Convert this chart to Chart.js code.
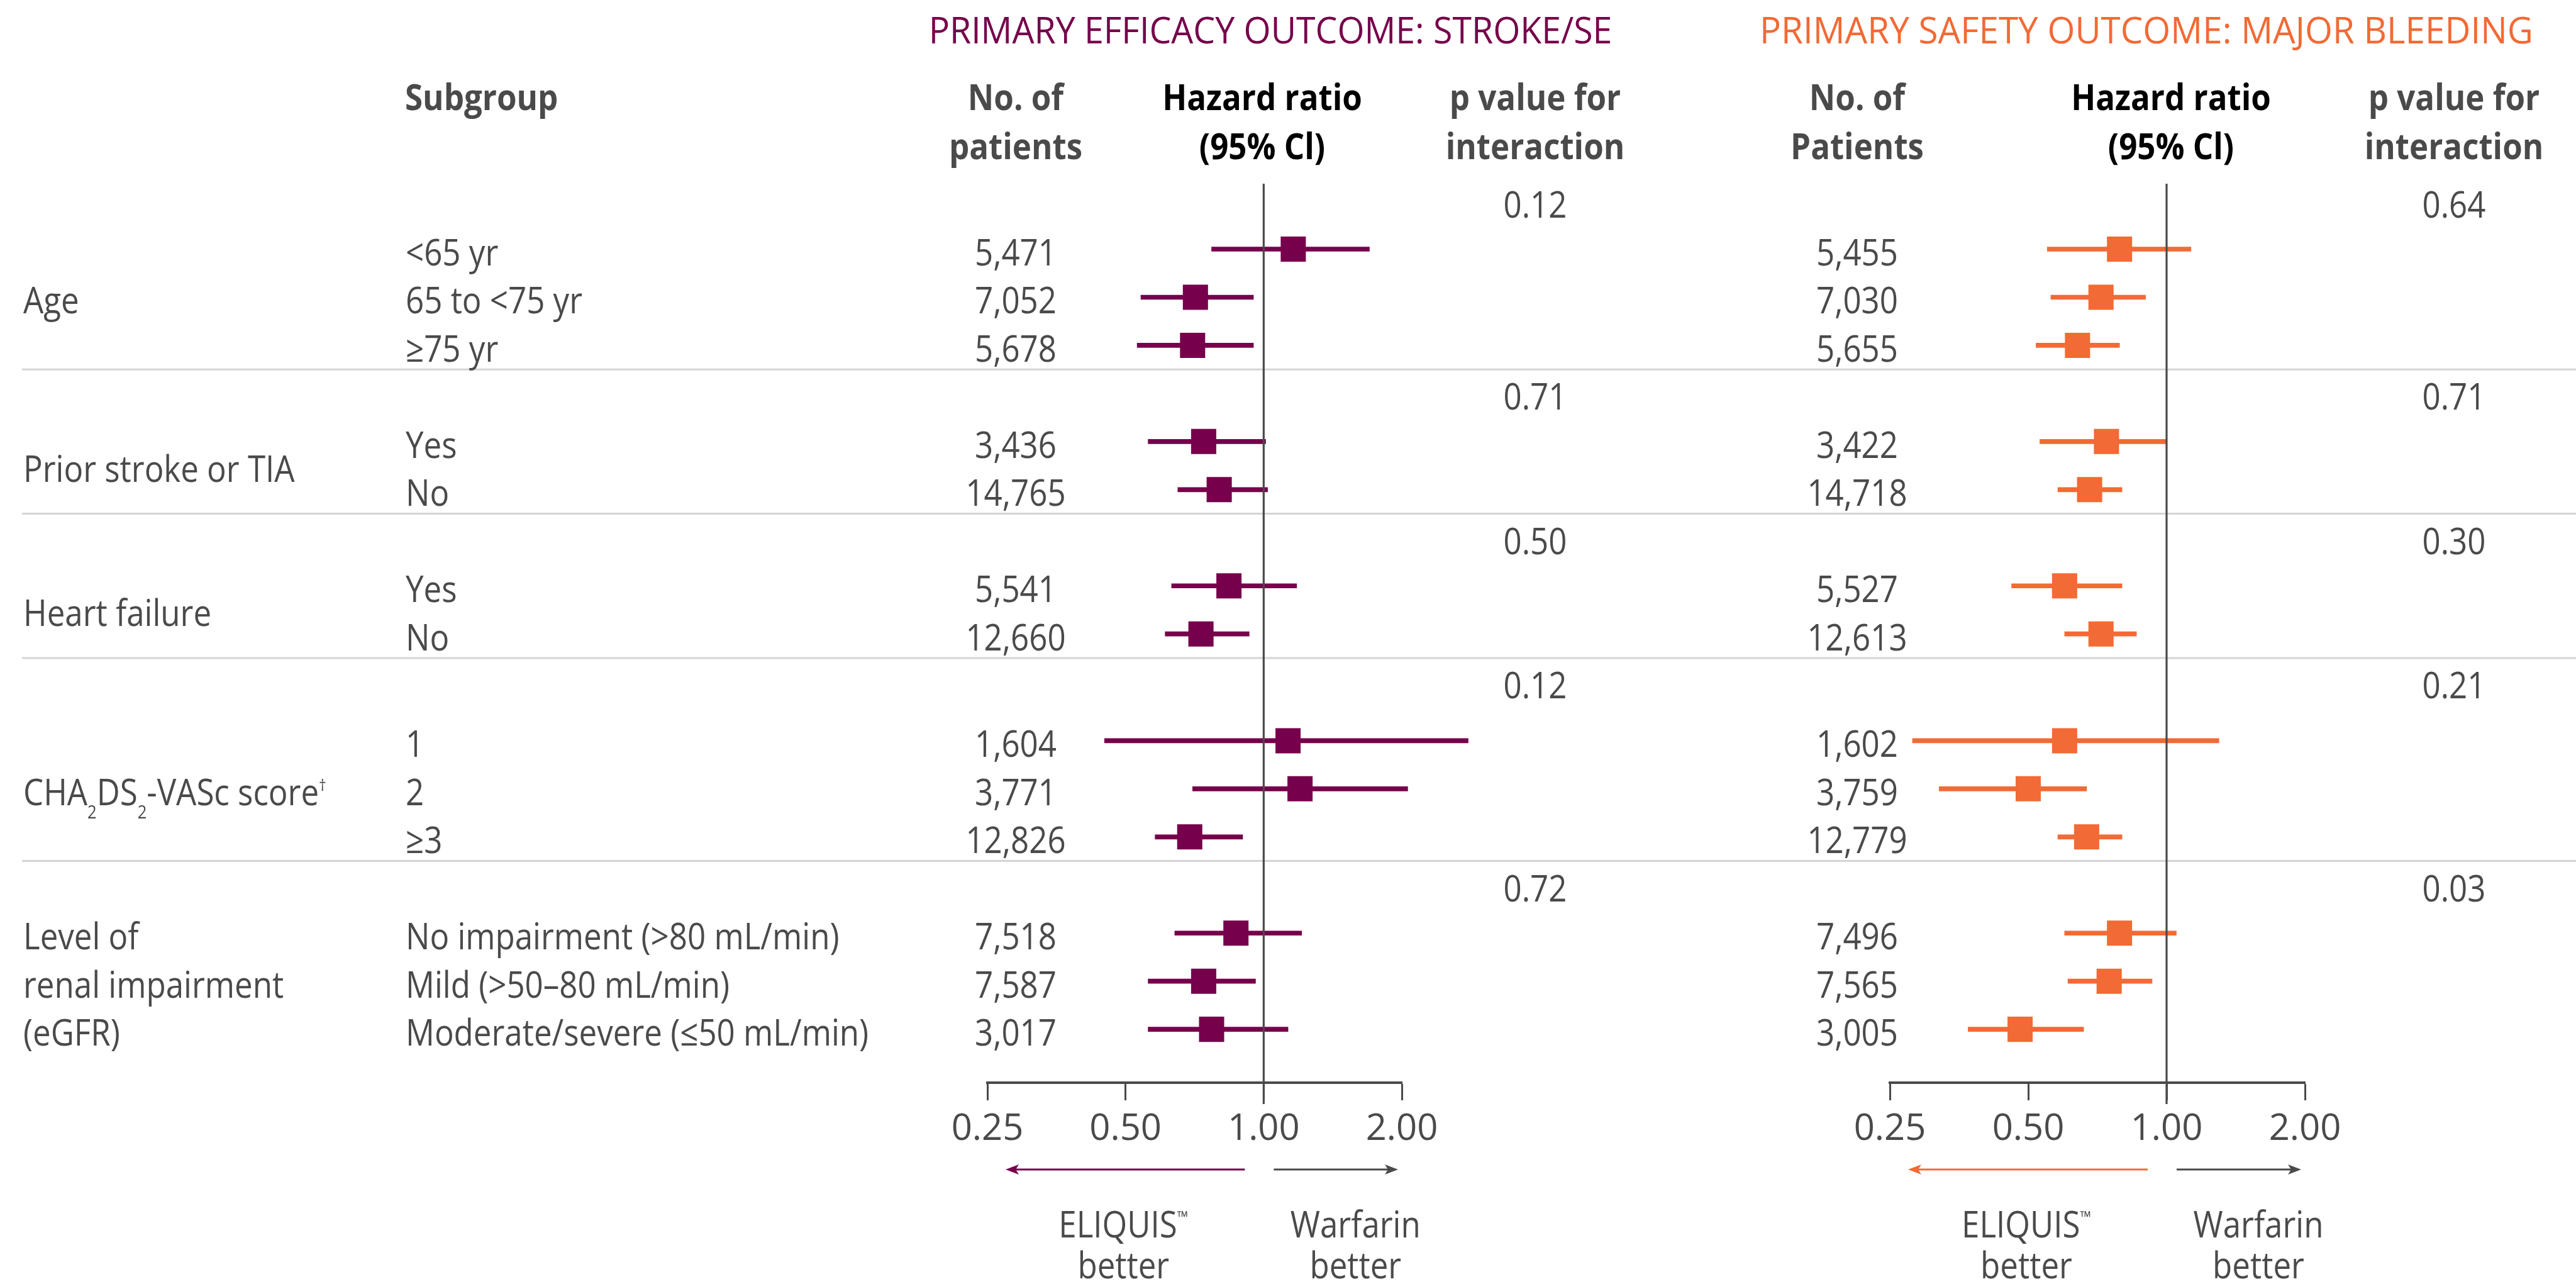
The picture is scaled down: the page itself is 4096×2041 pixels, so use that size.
<!DOCTYPE html>
<html lang="en">
<head>
<meta charset="utf-8">
<title>Subgroup analysis - stroke/SE and major bleeding</title>
<script src="https://cdn.jsdelivr.net/npm/chart.js@4.4.1/dist/chart.umd.min.js"></script>
<style>
  html, body { margin: 0; padding: 0; background: #ffffff; overflow: hidden; }
  #wrap { position: relative; width: 4096px; height: 2041px; }
  #wrap canvas { position: absolute; left: 0; top: 0; }
</style>
</head>
<body>
<div id="wrap">
  <canvas id="chartEff" width="4096" height="2041"></canvas>
  <canvas id="chartSaf" width="4096" height="2041"></canvas>
</div>
<script>
// data
const groupLabels = [['Age'], ['Prior stroke or TIA'], ['Heart failure'], ['CHA_2DS_2-VASc score^†'], ['Level of', 'renal impairment', '(eGFR)']];
const groupSize = [3, 2, 2, 3, 3];
const subgroups = ['<65 yr', '65 to <75 yr', '≥75 yr', 'Yes', 'No', 'Yes', 'No', '1', '2', '≥3',
    'No impairment (>80 mL/min)', 'Mild (>50–80 mL/min)', 'Moderate/severe (≤50 mL/min)'];

const effPatients = ['5,471', '7,052', '5,678', '3,436', '14,765', '5,541', '12,660', '1,604', '3,771', '12,826', '7,518', '7,587', '3,017'];
const effHR   = [1.16, 0.71, 0.70, 0.74, 0.80, 0.84, 0.73, 1.13, 1.20, 0.69, 0.87, 0.74, 0.77];
const effLow  = [0.77, 0.54, 0.53, 0.56, 0.65, 0.63, 0.61, 0.45, 0.70, 0.58, 0.64, 0.56, 0.56];
const effHigh = [1.70, 0.95, 0.95, 1.01, 1.02, 1.18, 0.93, 2.79, 2.06, 0.90, 1.21, 0.96, 1.13];
const effP = ['0.12', '0.71', '0.50', '0.12', '0.72'];

const safPatients = ['5,455', '7,030', '5,655', '3,422', '14,718', '5,527', '12,613', '1,602', '3,759', '12,779', '7,496', '7,565', '3,005'];
const safHR   = [0.79, 0.72, 0.64, 0.74, 0.68, 0.60, 0.72, 0.60, 0.50, 0.67, 0.79, 0.75, 0.48];
const safLow  = [0.55, 0.56, 0.52, 0.53, 0.58, 0.46, 0.60, 0.28, 0.32, 0.58, 0.60, 0.61, 0.37];
const safHigh = [1.13, 0.90, 0.79, 1.00, 0.80, 0.80, 0.86, 1.30, 0.67, 0.80, 1.05, 0.93, 0.66];
const safP = ['0.64', '0.71', '0.30', '0.21', '0.03'];

const hrTicks = [0.25, 0.5, 1, 2];

// look
const GREY = '#4a4a4a';
const PURPLE = '#76004b';
const ORANGE = '#f26a35';
const RULE = '#d4d4d4';
const FONT = '"Open Sans", "Noto Sans", sans-serif';
const FS = 58;
const SQUEEZE = 0.88;      // the original face is a narrow one
const AXIS_Y = 1721;

// one slot per text line; the CHA2DS2-VASc block sits a little lower
const groupGap = [0, 0, 0, 0.22, 0];
const pSlot = [], rowSlot = [], ruleSlot = [], labelSlot = [];
let slot = 0;
groupSize.forEach(function(size, g) {
    pSlot.push(slot);
    slot += 1 + groupGap[g];
    labelSlot.push(slot + (size - 1) / 2);
    for (let i = 0; i < size; i++) { rowSlot.push(slot); slot += 1; }
    if (g < groupSize.length - 1) ruleSlot.push(slot - 0.5);
});

// canvas text, squeezed horizontally; _x = subscript, ^x = superscript
function write(ctx, str, x, y, opt) {
    opt = opt || {};
    const size = opt.size || FS;
    const sq = opt.squeeze || SQUEEZE;
    const weight = opt.bold ? 700 : 400;
    const parts = str.split(/([_^].)/).filter(t => t !== '').map(function(t) {
        if (t.length === 2 && t[0] === '_') return { t: t[1], k: 0.5, dy: 0.36 };
        if (t.length === 2 && t[0] === '^') return { t: t[1], k: 0.45, dy: -0.4 };
        return { t: t, k: 1, dy: 0 };
    });
    ctx.save();
    ctx.fillStyle = opt.color || GREY;
    ctx.textBaseline = 'alphabetic';
    ctx.textAlign = 'left';
    let w = 0;
    parts.forEach(function(p) {
        ctx.font = weight + ' ' + (size * p.k) + 'px ' + FONT;
        p.w = ctx.measureText(p.t).width;
        w += p.w;
    });
    let x0 = x;
    if (opt.align === 'center') x0 = x - w * sq / 2;
    else if (opt.align === 'right') x0 = x - w * sq;
    ctx.translate(x0, y);
    ctx.scale(sq, 1);
    let cx = 0;
    parts.forEach(function(p) {
        ctx.font = weight + ' ' + (size * p.k) + 'px ' + FONT;
        ctx.fillText(p.t, cx, p.dy * size);
        cx += p.w;
    });
    ctx.restore();
}

function arrow(ctx, xFrom, xTip, y, colour) {
    const d = Math.sign(xTip - xFrom);
    ctx.save();
    ctx.strokeStyle = colour;
    ctx.fillStyle = colour;
    ctx.lineWidth = 3.2;
    ctx.beginPath();
    ctx.moveTo(xFrom, y);
    ctx.lineTo(xTip - d * 12, y);
    ctx.stroke();
    ctx.beginPath();
    ctx.moveTo(xTip, y);
    ctx.lineTo(xTip - d * 21, y - 8);
    ctx.lineTo(xTip - d * 16, y);
    ctx.lineTo(xTip - d * 21, y + 8);
    ctx.closePath();
    ctx.fill();
    ctx.restore();
}

function panelPlugin(cfg) {
    return {
        id: 'panel_' + cfg.key,
        beforeDatasetsDraw(chart) {
            if (!cfg.table) return;
            const ctx = chart.ctx, ys = chart.scales.y;
            ctx.save();
            ctx.strokeStyle = RULE;
            ctx.lineWidth = 3;
            ruleSlot.forEach(function(v) {
                const y = ys.getPixelForValue(v);
                ctx.beginPath(); ctx.moveTo(35, y); ctx.lineTo(chart.width, y); ctx.stroke();
            });
            ctx.restore();
        },
        afterDatasetsDraw(chart) {
            const ctx = chart.ctx, xs = chart.scales.x, ys = chart.scales.y;
            const x1 = xs.getPixelForValue(1);
            ctx.save();
            ctx.strokeStyle = GREY;
            ctx.lineWidth = 3.2;
            ctx.beginPath();
            ctx.moveTo(x1, ys.getPixelForValue(-0.36));
            ctx.lineTo(x1, xs.top + 34);
            ctx.stroke();
            ctx.restore();
        },
        afterDraw(chart) {
            const ctx = chart.ctx, xs = chart.scales.x, ys = chart.scales.y;
            const x1 = xs.getPixelForValue(1);
            const base = v => ys.getPixelForValue(v) + 26;

            write(ctx, cfg.title, cfg.titleX, 69, { color: cfg.colour, align: 'center', squeeze: cfg.titleSqueeze });
            write(ctx, 'No. of', cfg.nX, 175, { bold: true, align: 'center' });
            write(ctx, cfg.nHead, cfg.nX, 253, { bold: true, align: 'center' });
            write(ctx, 'Hazard ratio', cfg.hrX, 175, { bold: true, align: 'center', color: '#000000' });
            write(ctx, '(95% Cl)', cfg.hrX, 253, { bold: true, align: 'center', color: '#000000' });
            write(ctx, 'p value for', cfg.pX, 175, { bold: true, align: 'center' });
            write(ctx, 'interaction', cfg.pX, 253, { bold: true, align: 'center' });

            cfg.p.forEach((t, i) => write(ctx, t, cfg.pX, base(pSlot[i]), { align: 'center' }));
            cfg.n.forEach((t, i) => write(ctx, t, cfg.nX, base(rowSlot[i]), { align: 'center' }));

            if (cfg.table) {
                write(ctx, 'Subgroup', 644, 175, { bold: true });
                subgroups.forEach((t, i) => write(ctx, t, 645, base(rowSlot[i])));
                groupLabels.forEach(function(lines, g) {
                    lines.forEach((t, j) => write(ctx, t, 37, base(labelSlot[g] + j - (lines.length - 1) / 2)));
                });
            }

            const ay = 1859;
            arrow(ctx, x1 - 30, xs.getPixelForValue(0.25) + 29, ay, cfg.colour);
            arrow(ctx, x1 + 16, xs.getPixelForValue(2) - 6, ay, GREY);
            write(ctx, 'ELIQUIS^™', x1 - 223, 1967, { align: 'center' });
            write(ctx, 'better', x1 - 223, 2032, { align: 'center' });
            write(ctx, 'Warfarin', x1 + 146, 1967, { align: 'center' });
            write(ctx, 'better', x1 + 146, 2032, { align: 'center' });
        }
    };
}

function forest(canvasId, cfg) {
    const ctx = document.getElementById(canvasId).getContext('2d');
    return new Chart(ctx, {
        type: 'scatter',
        data: {
            datasets: [
                {
                    type: 'bar',
                    indexAxis: 'y',
                    data: rowSlot.map((y, i) => ({ y: y, x: [cfg.low[i], cfg.high[i]] })),
                    backgroundColor: cfg.colour,
                    borderWidth: 0,
                    barThickness: 7,
                    clip: false,
                    order: 2
                },
                {
                    type: 'scatter',
                    data: rowSlot.map((y, i) => ({ x: cfg.hr[i], y: y })),
                    pointStyle: 'rect',
                    pointRadius: 28.3,
                    pointHoverRadius: 28.3,
                    backgroundColor: cfg.colour,
                    borderWidth: 0,
                    clip: false,
                    order: 1
                }
            ]
        },
        options: {
            responsive: false,
            animation: false,
            devicePixelRatio: 1,
            events: [],
            layout: { autoPadding: false, padding: { left: cfg.left, right: cfg.right, top: 0, bottom: 0 } },
            plugins: {
                legend: { display: false },
                tooltip: { enabled: false }
            },
            scales: {
                x: {
                    type: 'logarithmic',
                    position: 'bottom',
                    offset: false,
                    min: 0.25,
                    max: 2,
                    afterBuildTicks: sc => { sc.ticks = hrTicks.map(v => ({ value: v })); },
                    afterFit: sc => { sc.height = 2041 - AXIS_Y; },
                    border: { display: true, color: GREY, width: 4 },
                    grid: { offset: false, drawOnChartArea: false, drawTicks: true, tickLength: 28, tickWidth: 3, tickColor: GREY },
                    ticks: {
                        autoSkip: false,
                        maxRotation: 0,
                        padding: 12,
                        color: GREY,
                        font: { family: FONT, size: FS },
                        callback: v => Number(v).toFixed(2)
                    }
                },
                y: {
                    type: 'linear',
                    reverse: true,
                    offset: false,
                    grace: 0,
                    min: -4.18,
                    max: 18.33,
                    grid: { offset: false },
                    display: false
                }
            }
        },
        plugins: [panelPlugin(cfg)]
    });
}

forest('chartEff', {
    key: 'eff', table: true, colour: PURPLE,
    n: effPatients, hr: effHR, low: effLow, high: effHigh, p: effP,
    left: 1570, right: 4096 - 2229,
    title: 'PRIMARY EFFICACY OUTCOME: STROKE/SE', titleX: 2020, titleSqueeze: 0.955,
    nHead: 'patients', nX: 1615, hrX: 2007, pX: 2441
});

forest('chartSaf', {
    key: 'saf', table: false, colour: ORANGE,
    n: safPatients, hr: safHR, low: safLow, high: safHigh, p: safP,
    left: 3005, right: 4096 - 3665,
    title: 'PRIMARY SAFETY OUTCOME: MAJOR BLEEDING', titleX: 3413, titleSqueeze: 0.975,
    nHead: 'Patients', nX: 2953, hrX: 3452, pX: 3902
});
</script>
</body>
</html>
